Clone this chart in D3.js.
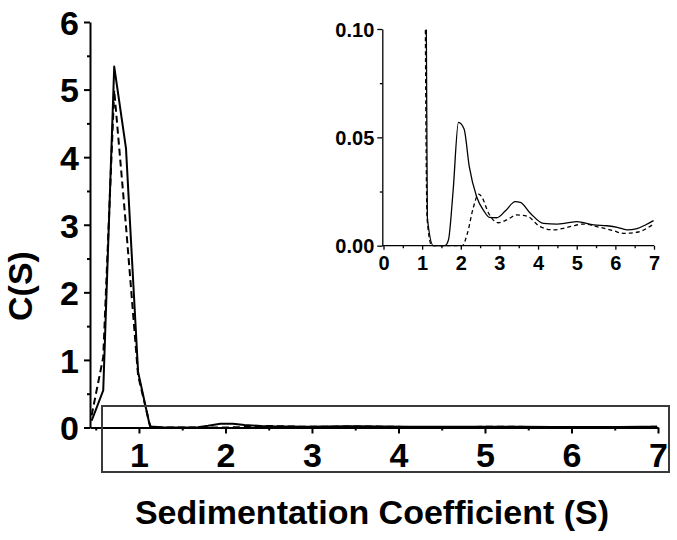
<!DOCTYPE html>
<html>
<head>
<meta charset="utf-8">
<script src="https://cdn.jsdelivr.net/npm/d3@7"></script>
<style>
  body { margin: 0; background: #fff; }
  svg text { font-family: "Liberation Sans", Arial, sans-serif; font-weight: bold; fill: #000; }
</style>
</head>
<body>
<svg class="chart" width="677" height="540"></svg>
<script>
// solid curve: sedimentation coefficient (S) and c(s)
var solidS = [0.453, 0.587, 0.714, 0.85, 0.99, 1.12, 1.135, 1.29, 1.59, 1.68, 1.8, 1.94, 2.085, 2.22, 2.41, 2.6, 2.74, 2.93, 3.15, 3.41, 3.54, 3.8, 4.14, 4.49, 4.75, 5.0, 5.44, 5.78, 6.05, 6.3, 6.56, 6.8, 6.99]
var solidC = [0.1, 0.55, 5.34, 4.13, 0.82, 0.06, 0.013, 0, 0, 0.0026, 0.025, 0.0569, 0.0538, 0.0365, 0.0226, 0.016, 0.0131, 0.0129, 0.016, 0.0203, 0.02, 0.015, 0.0103, 0.01, 0.0105, 0.0111, 0.0096, 0.0092, 0.0085, 0.0073, 0.0079, 0.0098, 0.0116]

// dashed curve
var dashS = [0.453, 0.587, 0.714, 0.85, 0.99, 1.13, 1.25, 2.04, 2.17, 2.33, 2.46, 2.54, 2.72, 2.97, 3.19, 3.45, 3.71, 4.05, 4.4, 4.83, 5.18, 5.52, 5.95, 6.21, 6.56, 6.99]
var dashC = [0.18, 1.04, 4.99, 2.98, 0.77, 0.012, 0, 0, 0.0057, 0.018, 0.0238, 0.0226, 0.015, 0.0106, 0.0119, 0.0142, 0.0137, 0.0088, 0.0073, 0.0088, 0.01, 0.0088, 0.0069, 0.0057, 0.0062, 0.01]

var mainXTicks = [1, 2, 3, 4, 5, 6, 7]
var mainXMinor = [0.5, 1.5, 2.5, 3.5, 4.5, 5.5, 6.5]
var mainYTicks = [0, 1, 2, 3, 4, 5, 6]
var mainYMinor = [0.5, 1.5, 2.5, 3.5, 4.5, 5.5]
var insetXTicks = [0, 1, 2, 3, 4, 5, 6, 7]
var insetXMinor = [0.5, 1.5, 2.5, 3.5, 4.5, 5.5, 6.5]
var insetYTicks = [0, 0.05, 0.10]
var insetYMinor = [0.025, 0.075]

const svg = d3.select(".chart")

var solid = solidS.map((s, i) => [s, solidC[i]])
var dashed = dashS.map((s, i) => [s, dashC[i]])

// ---- main plot
const x = d3.scaleLinear().domain([0.434, 7]).range([90, 658])
const y = d3.scaleLinear().domain([0, 6]).range([427.5, 22])

svg.append("clipPath").attr("id", "mainclip")
  .append("rect").attr("x", 90).attr("y", 15).attr("width", 570).attr("height", 413)

const line = d3.line().x(d => x(d[0])).y(d => y(d[1]))

svg.append("path").datum(solid)
  .attr("clip-path", "url(#mainclip)")
  .attr("d", line).attr("fill", "none")
  .attr("stroke", "#000").attr("stroke-width", 2).attr("stroke-linejoin", "round")
svg.append("path").datum(dashed)
  .attr("clip-path", "url(#mainclip)")
  .attr("d", line).attr("fill", "none")
  .attr("stroke", "#000").attr("stroke-width", 2).attr("stroke-dasharray", "7,4")

function styleAxis(g, w) {
  g.selectAll("path, line").attr("stroke", "#000").attr("stroke-width", w)
  g.selectAll("text").attr("fill", "#000")
}

svg.append("g").attr("transform", "translate(0,427.5)")
  .call(d3.axisBottom(x).tickValues(mainXMinor).tickSize(3).tickSizeOuter(0).tickFormat(""))
  .call(g => g.select(".domain").remove())
  .call(g => styleAxis(g, 2))
svg.append("g").attr("transform", "translate(0,427.5)")
  .call(d3.axisBottom(x).tickValues(mainXTicks).tickSize(6).tickSizeOuter(0).tickPadding(9.5).tickFormat(d3.format("d")))
  .call(g => g.selectAll("text").style("font-size", "34px"))
  .call(g => styleAxis(g, 2))

svg.append("g").attr("transform", "translate(90,0)")
  .call(d3.axisLeft(y).tickValues(mainYMinor).tickSize(3).tickSizeOuter(0).tickFormat(""))
  .call(g => g.select(".domain").remove())
  .call(g => styleAxis(g, 2))
svg.append("g").attr("transform", "translate(90,0)")
  .call(d3.axisLeft(y).tickValues(mainYTicks).tickSize(6).tickSizeOuter(0).tickPadding(5).tickFormat(d3.format("d")))
  .call(g => g.selectAll("text").style("font-size", "34px").attr("dy", "0.36em"))
  .call(g => styleAxis(g, 2))

// axis titles
svg.append("text")
  .attr("x", 372).attr("y", 524)
  .attr("text-anchor", "middle")
  .style("font-size", "34px")
  .text("Sedimentation Coefficient (S)")
svg.append("text")
  .attr("transform", "translate(32,286) rotate(-90)")
  .attr("text-anchor", "middle")
  .style("font-size", "34px")
  .text("C(S)")

// zoom box
svg.append("rect")
  .attr("x", 102).attr("y", 406).attr("width", 567).attr("height", 66)
  .attr("fill", "none").attr("stroke", "#3a3a3a").attr("stroke-width", 2)

// ---- inset
const xi = d3.scaleLinear().domain([0, 7]).range([383.5, 654])
const yi = d3.scaleLinear().domain([0, 0.1]).range([245.7, 29])

svg.append("clipPath").attr("id", "insetclip")
  .append("rect").attr("x", 382).attr("y", 29.5).attr("width", 274).attr("height", 217.5)

const iline = d3.line().curve(d3.curveMonotoneX).x(d => xi(d[0])).y(d => yi(d[1]))

svg.append("path").datum(solid)
  .attr("clip-path", "url(#insetclip)")
  .attr("d", iline).attr("fill", "none")
  .attr("stroke", "#000").attr("stroke-width", 1.3)
svg.append("path").datum(dashed)
  .attr("clip-path", "url(#insetclip)")
  .attr("d", iline).attr("fill", "none")
  .attr("stroke", "#000").attr("stroke-width", 1.3).attr("stroke-dasharray", "4,3")

svg.append("g").attr("transform", "translate(0,245.7)")
  .call(d3.axisBottom(xi).tickValues(insetXMinor).tickSize(2.5).tickSizeOuter(0).tickFormat(""))
  .call(g => g.select(".domain").remove())
  .call(g => styleAxis(g, 1.3))
svg.append("g").attr("transform", "translate(0,245.7)")
  .call(d3.axisBottom(xi).tickValues(insetXTicks).tickSize(4).tickSizeOuter(0).tickPadding(6).tickFormat(d3.format("d")))
  .call(g => g.select(".domain").attr("d", "M382.3,0H654"))
  .call(g => g.selectAll("text").style("font-size", "20px"))
  .call(g => styleAxis(g, 1.3))

svg.append("g").attr("transform", "translate(382.3,0)")
  .call(d3.axisLeft(yi).tickValues(insetYMinor).tickSize(2.5).tickSizeOuter(0).tickFormat(""))
  .call(g => g.select(".domain").remove())
  .call(g => styleAxis(g, 1.3))
svg.append("g").attr("transform", "translate(382.3,0)")
  .call(d3.axisLeft(yi).tickValues(insetYTicks).tickSize(5).tickSizeOuter(0).tickPadding(3).tickFormat(d3.format(".2f")))
  .call(g => g.selectAll("text").style("font-size", "20px").attr("dy", "0.36em"))
  .call(g => styleAxis(g, 1.3))
</script>
</body>
</html>
